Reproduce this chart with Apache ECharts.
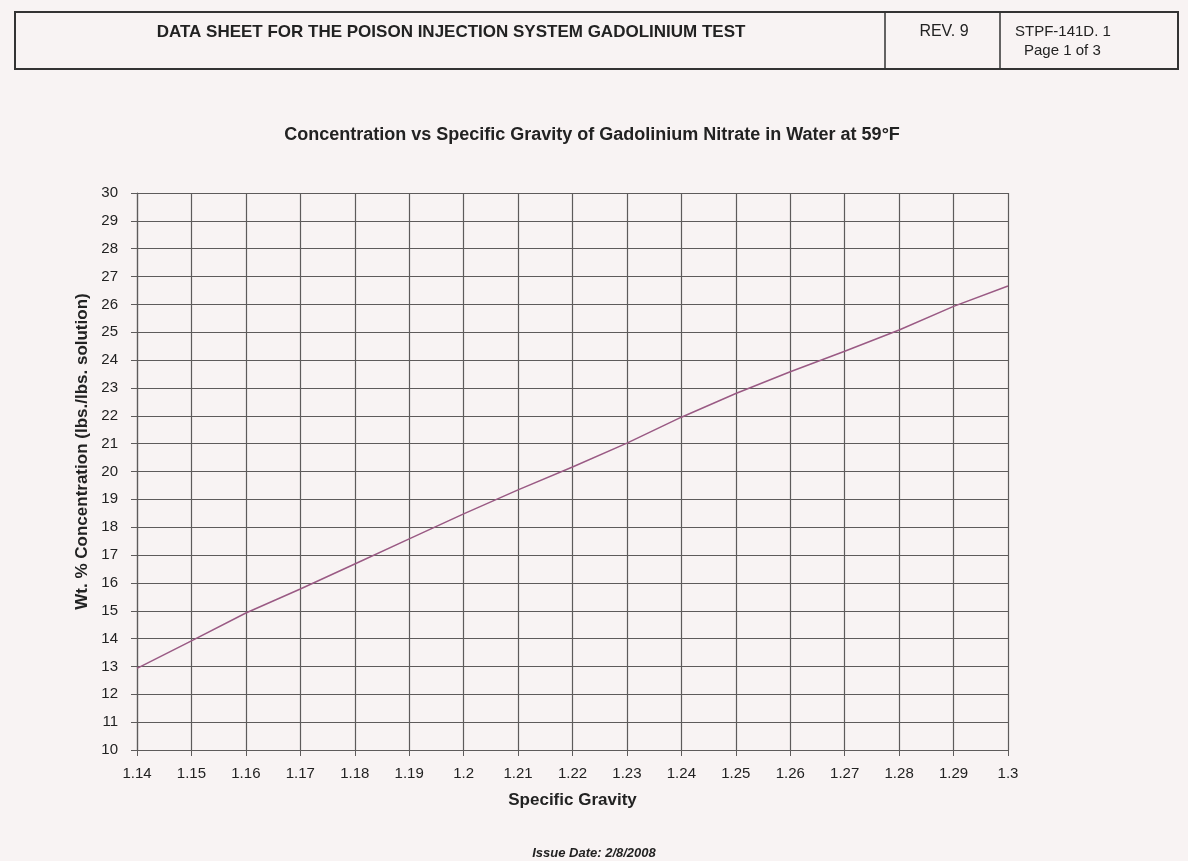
<!DOCTYPE html>
<html>
<head>
<meta charset="utf-8">
<script src="https://cdn.jsdelivr.net/npm/echarts@6/dist/echarts.min.js"></script>
<style>
  html, body { margin: 0; padding: 0; background: #f8f3f3; }
  #chart { width: 1188px; height: 861px; }
</style>
</head>
<body>
<div id="chart"></div>
<script>
// specific gravity readings (x) and wt.%
const gravity = [1.14, 1.15, 1.16, 1.17, 1.18, 1.19, 1.2, 1.21, 1.22, 1.23, 1.24, 1.25, 1.26, 1.27, 1.28, 1.29, 1.3]
const concentration = [12.93, 13.92, 14.92, 15.78, 16.68, 17.58, 18.48, 19.34, 20.16, 21.02, 21.95, 22.8, 23.58, 24.32, 25.08, 25.93, 26.66]

const font = 'Liberation Sans, Arial, sans-serif'
const gridColor = '#5e5b5b'

const myChart = echarts.init(document.getElementById('chart'))

const option = {
  backgroundColor: '#f8f3f3',
  animation: false,
  title: {
    text: 'Concentration vs Specific Gravity of Gadolinium Nitrate in Water at 59°F',
    left: 587,
    top: 121,
    textAlign: 'center',
    textStyle: { fontFamily: font, fontSize: 18, fontWeight: 'bold', color: '#222' }
  },
  grid: { left: 137, right: 180, top: 193, bottom: 111 },
  xAxis: {
    type: 'value',
    min: 1.14,
    max: 1.3,
    interval: 0.01,
    name: 'Specific Gravity',
    nameLocation: 'middle',
    nameGap: 42,
    nameTextStyle: { fontFamily: font, fontSize: 17, fontWeight: 'bold', color: '#222' },
    axisLine: { show: true, lineStyle: { color: gridColor, width: 1.2 } },
    axisTick: { show: true, length: 6, lineStyle: { color: gridColor } },
    axisLabel: {
      fontFamily: font, fontSize: 15, color: '#222', margin: 16,
      formatter: v => String(+v.toFixed(2))
    },
    splitLine: { show: true, lineStyle: { color: gridColor, width: 1.2 } }
  },
  yAxis: {
    type: 'value',
    min: 10,
    max: 30,
    interval: 1,
    name: 'Wt. % Concentration (lbs./lbs. solution)',
    nameLocation: 'middle',
    nameGap: 34,
    nameTextStyle: { fontFamily: font, fontSize: 17, fontWeight: 'bold', color: '#222', padding: [0, 0, 0, 40] },
    axisLine: { show: true, lineStyle: { color: gridColor, width: 1.2 } },
    axisTick: { show: true, length: 6, lineStyle: { color: gridColor } },
    axisLabel: { fontFamily: font, fontSize: 15, color: '#222', margin: 19 },
    splitLine: { show: true, lineStyle: { color: gridColor, width: 1.2 } }
  },
  series: [
    {
      type: 'line',
      data: gravity.map((g, i) => [g, concentration[i]]),
      showSymbol: false,
      smooth: false,
      lineStyle: { color: '#9a5a84', width: 1.5 }
    }
  ],
  graphic: [
    // header box
    { type: 'rect', shape: { x: 15, y: 12, width: 1163, height: 57 },
      style: { fill: 'none', stroke: '#333', lineWidth: 2 } },
    { type: 'line', shape: { x1: 885, y1: 12, x2: 885, y2: 69 }, style: { stroke: '#333', lineWidth: 1.5 } },
    { type: 'line', shape: { x1: 1000, y1: 12, x2: 1000, y2: 69 }, style: { stroke: '#333', lineWidth: 1.5 } },
    { type: 'text', x: 451, y: 32, style: {
      text: 'DATA SHEET FOR THE POISON INJECTION SYSTEM GADOLINIUM TEST',
      font: 'bold 17px ' + font, fill: '#222', align: 'center', verticalAlign: 'middle' } },
    { type: 'text', x: 944, y: 32, style: {
      text: 'REV. 9', font: '16px ' + font, fill: '#222', align: 'center', verticalAlign: 'middle' } },
    { type: 'text', x: 1015, y: 32, style: {
      text: 'STPF-141D. 1', font: '15px ' + font, fill: '#222', align: 'left', verticalAlign: 'middle' } },
    { type: 'text', x: 1024, y: 51, style: {
      text: 'Page 1 of 3', font: '15px ' + font, fill: '#222', align: 'left', verticalAlign: 'middle' } },
    // footer
    { type: 'text', x: 594, y: 853, style: {
      text: 'Issue Date: 2/8/2008', font: 'italic bold 13px ' + font, fill: '#222', align: 'center', verticalAlign: 'middle' } }
  ]
}

myChart.setOption(option)
</script>
</body>
</html>
